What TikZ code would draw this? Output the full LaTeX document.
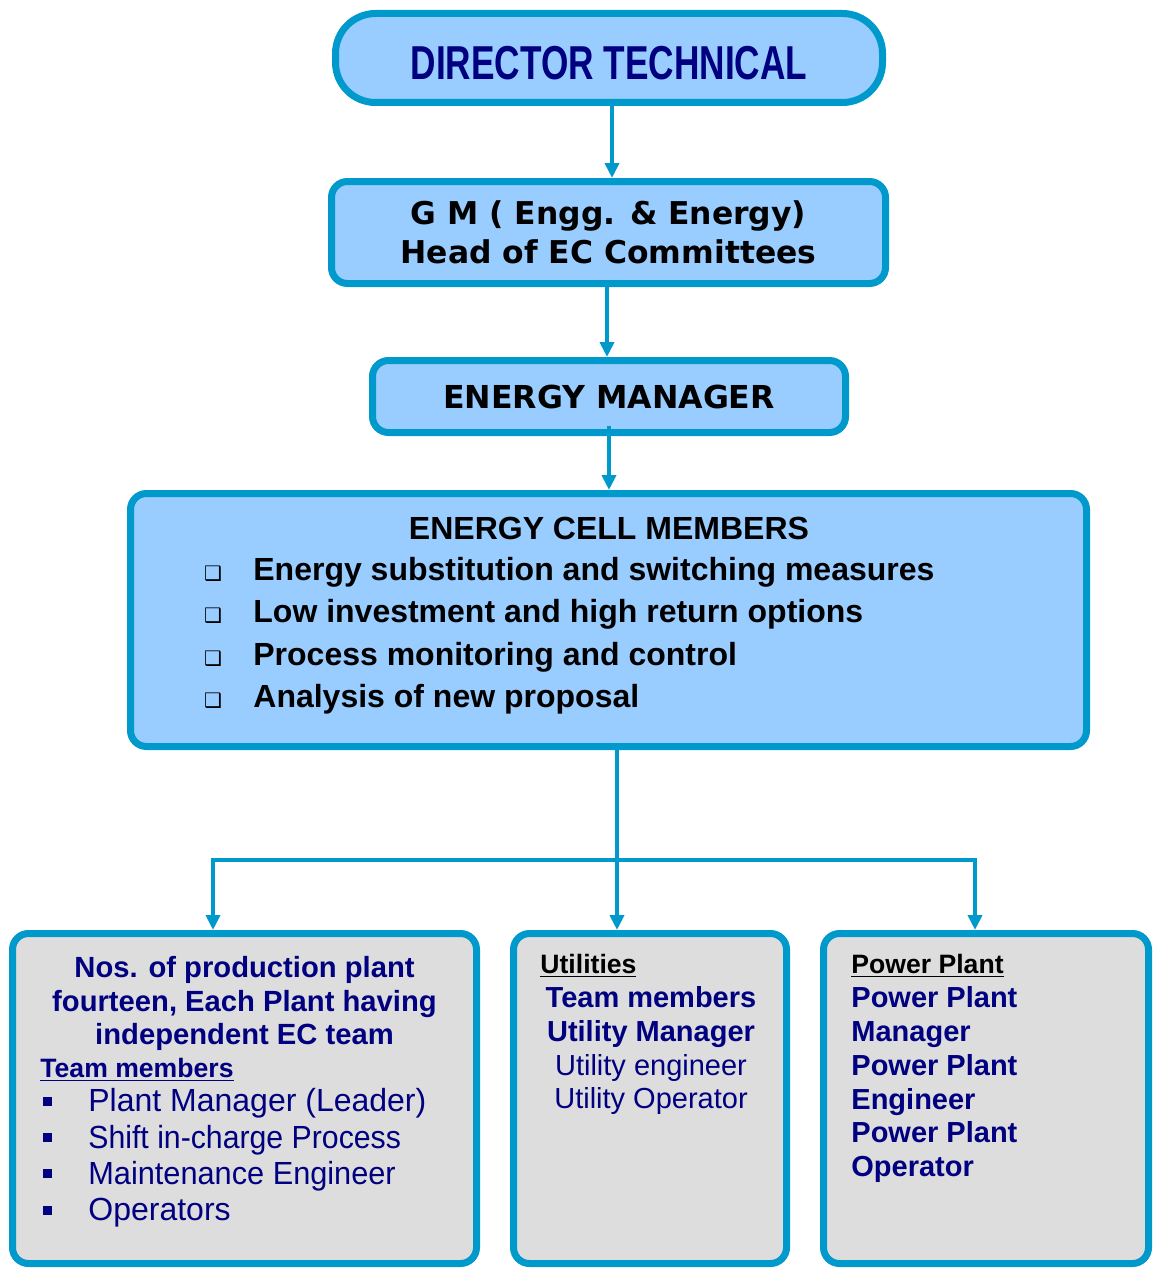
\documentclass[tikz,border=0pt]{standalone}
\usepackage{fontspec}
\setmainfont{Liberation Sans}
\newfontfamily\symfont{DejaVu Sans}
\newfontfamily\narrowfont[FakeStretch=0.74]{Liberation Sans}
\usepackage{xcolor}
\definecolor{cLine}{HTML}{0099CC}
\definecolor{cBlue}{HTML}{99CCFF}
\definecolor{cGrey}{HTML}{DDDDDD}
\definecolor{cNavy}{HTML}{000080}
\usepackage{tikz}
\usetikzlibrary{arrows.meta,calc}
\newcommand{\fsz}[1]{\fontsize{#1pt}{#1pt}\selectfont}
\tikzset{
  box-blue/.style={draw=cLine,line width=3.5pt,fill=cBlue,rounded corners=8pt,inner sep=0pt},
  box-grey/.style={draw=cLine,line width=3.5pt,fill=cGrey,rounded corners=8pt,inner sep=0pt},
  arrow/.style={-{Triangle[length=7.5pt,width=7pt]},line width=2.2pt,draw=cLine},
  txt-base/.style={anchor=base,inner sep=0pt},
  txt-left/.style={anchor=base west,inner sep=0pt},
}

\begin{document}
\begin{tikzpicture}[x=0.5pt,y=-0.5pt]
  \useasboundingbox (0,0) rectangle (1153,1268);
  % chain of command
  \node[box-blue,rounded corners=20pt,minimum width=273.5pt,minimum height=44.5pt,
    text height=22pt,text depth=0pt,
    font=\narrowfont\bfseries\fsz{23.8},text=cNavy] (dir) at (609,58) {DIRECTOR TECHNICAL};
  \node[box-blue,minimum width=277pt,minimum height=51pt,align=center,
    font=\symfont\bfseries\fontsize{15.7pt}{19.5pt}\selectfont] (gm) at (608.5,232.5)
    {G M ( Engg. \& Energy)\\Head of EC Committees};
  \node[box-blue,minimum width=236.5pt,minimum height=36pt,
    font=\symfont\bfseries\fsz{15.8}] (em) at (609,396.5) {ENERGY MANAGER};
  \node[box-blue,minimum width=478pt,minimum height=126.5pt] (ecm) at (608.5,620) {};
  \node[box-grey,minimum width=232pt,minimum height=165pt] (lbox) at (244.5,1098.5) {};
  \node[box-grey,minimum width=136.5pt,minimum height=165pt] (mbox) at (650,1098.5) {};
  \node[box-grey,minimum width=162.5pt,minimum height=165pt] (rbox) at (986,1098.5) {};

  \draw[arrow] (dir.south -| 612,0) -- (gm.north -| 612,0);
  \draw[arrow] (gm.south -| 607,0) -- (em.north -| 607,0);
  \draw[arrow] ([yshift=5.25pt]em.south) -- (em.south |- ecm.north);

  \coordinate (hub) at (617,860);
  \coordinate (bar-l) at (213,860);
  \coordinate (bar-r) at (975,860);
  \draw[arrow] (ecm.south -| hub) -- (hub |- mbox.north);
  \draw[arrow] (hub) -- (bar-l) -- (bar-l |- lbox.north);
  \draw[arrow] (hub) -- (bar-r) -- (bar-r |- rbox.north);

  % energy cell
  \node[txt-base,font=\bfseries\fsz{16}] (cell-title) at (609,539) {ENERGY CELL MEMBERS};
  \foreach \entry [count=\i] in {Energy substitution and switching measures,
      Low investment and high return options, Process monitoring and control,
      Analysis of new proposal} {
    \node[txt-left,font=\bfseries\fsz{16}] (cell-t\i) at (253,{538.5+42.2*\i}) {\entry};
    \node[txt-base,font=\symfont\fsz{10}] (cell-b\i) at (213,{538.5+42.2*\i}) {❑};
  }

  % production plants
  \foreach \row [count=\i] in {Nos. of production plant, {fourteen, Each Plant having},
      independent EC team}
    \node[txt-base,font=\bfseries\fsz{14.6},text=cNavy] (plant-h\i) at (244.5,{944+33.5*\i}) {\row};
  \node[txt-left,font=\bfseries\fsz{13.3},text=cNavy] (plant-team) at (40,1077) {\underline{Team members}};
  \foreach \row/\sx [count=\i] in {Plant Manager (Leader)/1, Shift in-charge Process/0.945,
      Maintenance Engineer/0.96, Operators/1} {
    \node[txt-left,font=\fsz{16},text=cNavy,xscale=\sx,transform shape]
      (plant-m\i) at (88,{1075.3+36.4*\i}) {\row};
    \node[fill=cNavy,inner sep=0pt,minimum size=4.5pt] (plant-b\i) at (47,{1064.6+36.4*\i}) {};
  }

  % utilities
  \node[txt-left,font=\bfseries\fsz{13.3}] (util-h) at (540,973) {\underline{Utilities}};
  \foreach \row/\wt [count=\i] in {Team members/\bfseries, Utility Manager/\bfseries,
      Utility engineer/\mdseries, Utility Operator/\mdseries}
    \node[txt-base,font=\wt\fsz{14.5},text=cNavy] (util-\i) at (651,{973.6+33.8*\i}) {\row};

  % power plant
  \node[txt-left,font=\bfseries\fsz{13.3}] (pp-h) at (851,973) {\underline{Power Plant}};
  \foreach \row [count=\i] in {Power Plant, Manager, Power Plant, Engineer, Power Plant, Operator}
    \node[txt-left,font=\bfseries\fsz{14.5},text=cNavy] (pp-\i) at (851,{973.4+33.9*\i}) {\row};
\end{tikzpicture}
\end{document}
